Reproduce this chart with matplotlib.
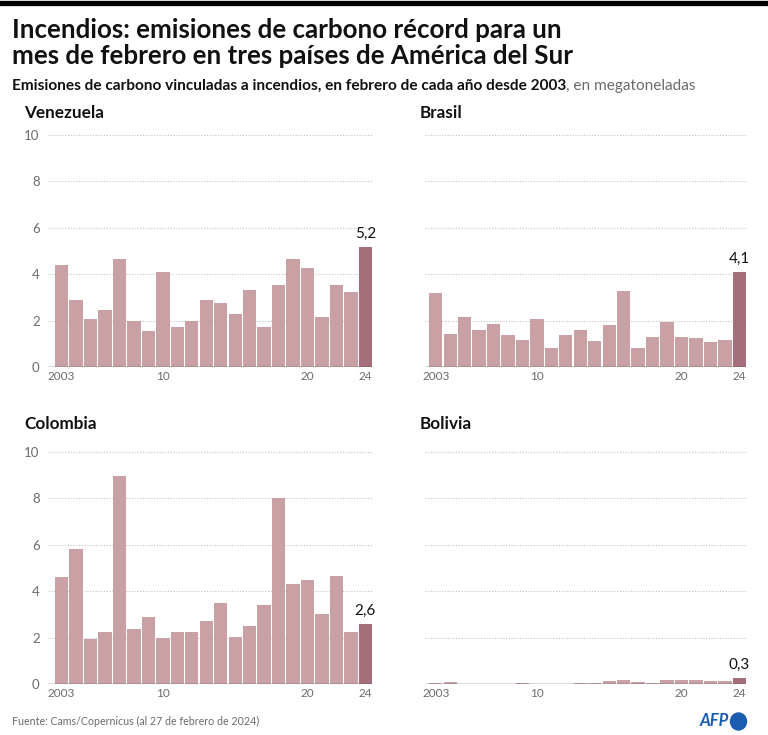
import matplotlib
matplotlib.use('Agg')
import matplotlib.pyplot as plt
from matplotlib.patches import Ellipse
import numpy as np

plt.rcParams['font.family'] = ['Lato', 'DejaVu Sans']

years = list(range(2003, 2025))
venezuela = [4.38, 2.88, 2.08, 2.47, 4.65, 1.99, 1.56, 4.10, 1.71, 1.99, 2.88,
             2.77, 2.27, 3.33, 1.71, 3.52, 4.66, 4.25, 2.15, 3.53, 3.24, 5.17]
brasil = [3.19, 1.43, 2.15, 1.61, 1.85, 1.38, 1.16, 2.07, 0.83, 1.36, 1.58,
          1.12, 1.82, 3.27, 0.83, 1.29, 1.95, 1.31, 1.25, 1.06, 1.15, 4.09]
colombia = [4.62, 5.81, 1.94, 2.22, 8.98, 2.36, 2.89, 1.99, 2.24, 2.24, 2.73,
            3.48, 2.03, 2.50, 3.41, 8.01, 4.33, 4.49, 3.01, 4.66, 2.26, 2.60]
bolivia = [0.03, 0.07, 0.01, 0.01, 0.02, 0.01, 0.04, 0.02, 0.02, 0.005, 0.03,
           0.04, 0.14, 0.16, 0.10, 0.05, 0.17, 0.16, 0.17, 0.14, 0.12, 0.27]
last_labels = ['5,2', '4,1', '2,6', '0,3']
names = ['Venezuela', 'Brasil', 'Colombia', 'Bolivia']
xticks = [2003, 2010, 2020, 2024]
xticklabels = ['2003', '10', '20', '24']
yticks = [0, 2, 4, 6, 8, 10]

bar_col = '#c9a1a5'
last_col = '#a46f7b'
grey = '#6b6b6b'

W, H = 768, 735
fig = plt.figure(figsize=(W / 100, H / 100), dpi=100)

def px(x0, y0, x1, y1):
    # pixel box (top-left origin) -> figure fraction rect
    return [x0 / W, 1 - y1 / H, (x1 - x0) / W, (y1 - y0) / H]

# axes boxes: left, top(y=10), right, bottom(y=0)
boxes = [(48, 135, 372, 367), (425, 135, 746, 367),
         (48, 452, 372, 684), (425, 452, 746, 684)]
xlims = [(2002.06, 2024.46), (2002.26, 2024.46),
         (2002.06, 2024.46), (2002.26, 2024.46)]
data = [venezuela, brasil, colombia, bolivia]
title_pos = [(24, 113), (420, 113), (24, 424), (420, 424)]

for i in range(4):
    ax = fig.add_axes(px(*boxes[i]))
    vals = data[i]
    cols = [bar_col] * (len(vals) - 1) + [last_col]
    ax.bar(years, vals, width=0.92, color=cols, zorder=2)
    ax.set_xlim(*xlims[i])
    ax.set_ylim(0, 10)
    for s in ax.spines.values():
        s.set_visible(False)
    for y in yticks[1:]:
        ax.axhline(y, color='#c4c4c4', lw=0.8, ls=(0, (1, 1.5)), zorder=1, clip_on=False)
    ax.axhline(0, color='#444444', lw=1.0, zorder=3)
    ax.set_xticks(xticks)
    ax.set_xticklabels(xticklabels, fontsize=8.5, color=grey)
    ax.tick_params(axis='x', length=0, pad=3)
    if i % 2 == 0:
        ax.set_yticks(yticks)
        ax.set_yticklabels([str(v) for v in yticks], fontsize=9.5, color=grey)
        ax.tick_params(axis='y', length=0, pad=6)
    else:
        ax.set_yticks([])
    ax.text(years[-1], vals[-1] + 0.25, last_labels[i], ha='center', va='bottom',
            fontsize=11, color='#111111')
    fig.text(title_pos[i][0] / W, 1 - title_pos[i][1] / H, names[i],
             fontsize=12.3, fontweight='bold', va='center', ha='left', color='#111111')

# top black rule
fig.add_artist(plt.Line2D([0, 1], [1 - 2.5 / H, 1 - 2.5 / H], color='black', lw=3.8))

fig.text(12 / W, 1 - 30 / H, 'Incendios: emisiones de carbono récord para un',
         fontsize=18.6, fontweight='bold', va='center', color='#111111')
fig.text(12 / W, 1 - 56 / H, 'mes de febrero en tres países de América del Sur',
         fontsize=18.6, fontweight='bold', va='center', color='#111111')

t = fig.text(12 / W, 1 - 86 / H,
             'Emisiones de carbono vinculadas a incendios, en febrero de cada año desde 2003',
             fontsize=11.1, fontweight='bold', va='center', color='#111111')
fig.canvas.draw()
bb = t.get_window_extent()
fig.text(bb.x1 / W, 1 - 86 / H, ', en megatoneladas', fontsize=11.1,
         va='center', color=grey)

fig.text(12 / W, 1 - 721 / H, 'Fuente: Cams/Copernicus (al 27 de febrero de 2024)',
         fontsize=7.7, va='center', color=grey)

# AFP logo
afp_blue = '#1b5cb0'
fig.text(729 / W, 1 - 721 / H, 'AFP', fontsize=12, fontweight='bold', style='italic',
         ha='right', va='center', color=afp_blue)
fig.add_artist(Ellipse((738.5 / W, 1 - 721.5 / H), 16 / W, 17 / H,
                       transform=fig.transFigure, color=afp_blue))

fig.savefig('out.png', dpi=100)
